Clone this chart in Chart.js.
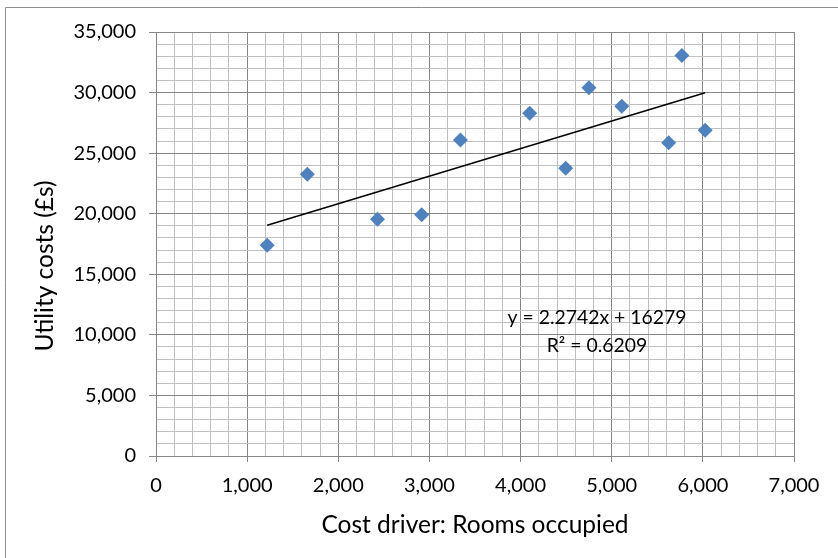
<!DOCTYPE html>
<html>
<head>
<meta charset="utf-8">
<script src="https://cdn.jsdelivr.net/npm/chart.js@4.4.1/dist/chart.umd.min.js"></script>
<style>
  html, body { margin: 0; padding: 0; background: #ffffff; }
  #wrap { width: 838px; height: 558px; position: relative; }
</style>
</head>
<body>
<div id="wrap"><canvas id="c"></canvas></div>
<script>
// ---- data ----
const roomsOccupied = [1220, 1660, 2430, 2915, 3340, 4100, 4495, 4750, 5110, 5625, 5770, 6025];
const utilityCosts  = [17400, 23250, 19540, 19920, 26090, 28290, 23750, 30400, 28870, 25860, 33050, 26890];
const xTickLabels = ['0', '1,000', '2,000', '3,000', '4,000', '5,000', '6,000', '7,000'];
const yTickLabels = ['0', '5,000', '10,000', '15,000', '20,000', '25,000', '30,000', '35,000'];
const trendSlope = 2.2742;
const trendIntercept = 16279;
const rSquaredText = '0.6209';
const xTitle = 'Cost driver: Rooms occupied';
const yTitle = 'Utility costs (£s)';

// ---- derived ----
const points = roomsOccupied.map((x, i) => ({ x: x, y: utilityCosts[i] }));
const xMin = Math.min(...roomsOccupied);
const xMax = Math.max(...roomsOccupied);
const trendPoints = [xMin, xMax].map(x => ({ x: x, y: trendSlope * x + trendIntercept }));

const FONT = 'Lato, "Open Sans", sans-serif';
const MAJOR = '#868686';
const MINOR = '#C0C0C0';

const framePlugin = {
  id: 'frame',
  beforeDraw(chart) {
    const ctx = chart.ctx;
    ctx.save();
    ctx.fillStyle = '#ffffff';
    ctx.fillRect(0, 0, chart.width, chart.height);
    ctx.strokeStyle = '#8E8E8E';
    ctx.lineWidth = 1;
    ctx.beginPath();
    ctx.moveTo(5.5, chart.height);
    ctx.lineTo(5.5, 7.5);
    ctx.lineTo(chart.width, 7.5);
    ctx.stroke();
    ctx.restore();
  },
  afterDraw(chart) {
    const ctx = chart.ctx;
    ctx.save();
    // y axis title
    ctx.fillStyle = '#000000';
    ctx.font = '24.5px ' + FONT;
    ctx.textAlign = 'center';
    ctx.textBaseline = 'middle';
    ctx.translate(45, 266);
    ctx.rotate(-Math.PI / 2);
    ctx.fillText(yTitle, 0, 0);
    ctx.restore();
    // trendline label
    ctx.save();
    ctx.fillStyle = '#000000';
    ctx.font = '19.4px ' + FONT;
    ctx.textAlign = 'center';
    ctx.textBaseline = 'middle';
    ctx.fillText('y = ' + trendSlope + 'x + ' + trendIntercept, 597, 318);
    ctx.fillText('R\u00B2 = ' + rSquaredText, 597, 346);
    ctx.restore();
  }
};

const gridColor = (step) => (c) => (c.tick && c.tick.value % step === 0 ? MAJOR : MINOR);
const tickColor = (step) => (c) => (c.tick && c.tick.value % step === 0 ? MAJOR : 'rgba(0,0,0,0)');

new Chart(document.getElementById('c'), {
  type: 'scatter',
  data: {
    datasets: [
      {
        label: 'Utility costs',
        data: points,
        pointStyle: 'rectRot',
        pointRadius: 7.5,
        pointHoverRadius: 7.5,
        pointBackgroundColor: '#4F81BD',
        pointBorderColor: '#4F81BD',
        pointBorderWidth: 0,
        order: 1
      },
      {
        label: 'Linear trend',
        type: 'line',
        data: trendPoints,
        borderColor: '#000000',
        borderWidth: 1.5,
        pointRadius: 0,
        fill: false,
        order: 2
      }
    ]
  },
  options: {
    responsive: true,
    maintainAspectRatio: false,
    animation: false,
    layout: { padding: { left: 0, top: 32, right: 44, bottom: 0 } },
    plugins: {
      legend: { display: false },
      tooltip: { enabled: false }
    },
    scales: {
      x: {
        type: 'linear',
        min: 0,
        max: 7000,
        afterFit: (s) => { s.height = 102; },
        border: { color: MAJOR, width: 1 },
        grid: { color: gridColor(1000), tickColor: tickColor(1000), tickLength: 6, drawTicks: true },
        ticks: {
          stepSize: 200,
          autoSkip: false,
          maxRotation: 0,
          padding: 12,
          color: '#000000',
          font: { family: FONT, size: 20 },
          callback: (v) => (v % 1000 === 0 ? xTickLabels[v / 1000] : '')
        },
        title: {
          display: true,
          text: xTitle,
          color: '#000000',
          font: { family: FONT, size: 24.5 },
          padding: { top: 0, bottom: 18 }
        }
      },
      y: {
        type: 'linear',
        min: 0,
        max: 35000,
        afterFit: (s) => { s.width = 156; },
        border: { color: MAJOR, width: 1 },
        grid: { color: gridColor(5000), tickColor: tickColor(5000), tickLength: 7, drawTicks: true },
        ticks: {
          stepSize: 1000,
          autoSkip: false,
          padding: 13,
          color: '#000000',
          font: { family: FONT, size: 20 },
          callback: (v) => (v % 5000 === 0 ? yTickLabels[v / 5000] : '')
        }
      }
    }
  },
  plugins: [framePlugin]
});
</script>
</body>
</html>
